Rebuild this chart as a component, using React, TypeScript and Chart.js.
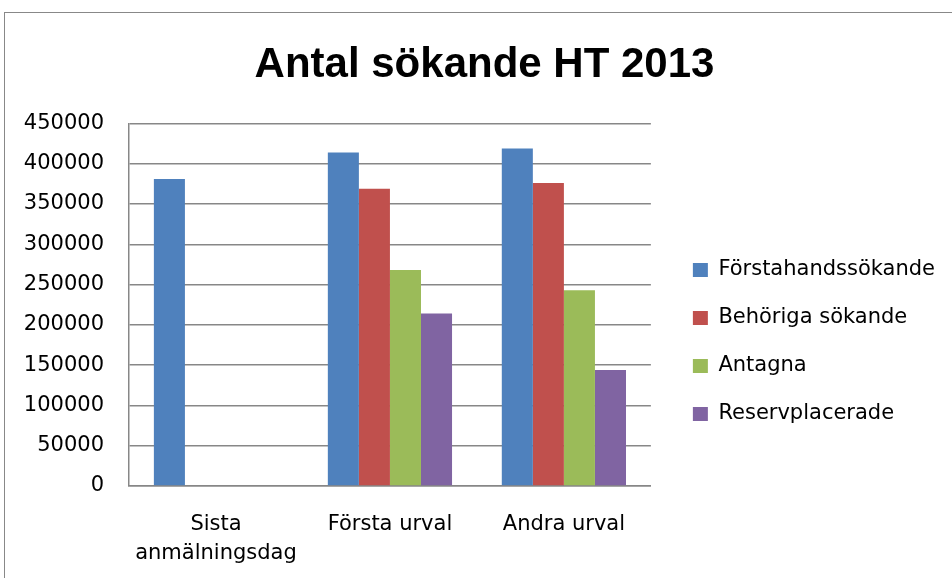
import React, { useEffect, useRef } from "react";
import { Chart, registerables } from "chart.js";

Chart.register(...registerables);

const categories: (string | string[])[] = [["Sista", "anmälningsdag"], "Första urval", "Andra urval"];
const seriesNames = ["Förstahandssökande", "Behöriga sökande", "Antagna", "Reservplacerade"];
const forstahands = [381000, 414000, 419000];
const behoriga = [null, 369000, 376000];
const antagna = [null, 268000, 243000];
const reserv = [null, 214000, 144000];
const colors = ["#4F81BD", "#C0504D", "#9BBB59", "#8064A2"];
const yMax = 450000;
const yStep = 50000;

const FONT = "'DejaVu Sans', sans-serif";
const GRID = "#878787";

export default function App() {
  const ref = useRef<HTMLCanvasElement | null>(null);
  useEffect(() => {
    document.body.style.margin = "0";
    document.body.style.overflow = "hidden";
    const series = [forstahands, behoriga, antagna, reserv];
    const chart = new Chart(ref.current!, {
      type: "bar",
      data: {
        labels: categories,
        datasets: series.map((d, i) => ({
          label: seriesNames[i],
          data: d,
          backgroundColor: colors[i],
          borderWidth: 0,
          categoryPercentage: 0.714,
          barPercentage: 1,
        })),
      },
      options: {
        responsive: false,
        animation: false,
        layout: { padding: { left: 24, right: 7, top: 0, bottom: 12 } },
        plugins: {
          tooltip: { enabled: false },
          title: {
            display: true,
            text: "Antal sökande HT 2013",
            color: "#000",
            font: { family: "'Liberation Sans', sans-serif", size: 42, weight: "bold", lineHeight: 1.2 },
            padding: { top: 40, bottom: 33 },
          },
          legend: {
            position: "right",
            align: "center",
            maxWidth: 320,
            title: { display: true, text: " ", font: { size: 10, lineHeight: 1.2 }, padding: { top: 0, bottom: 106 } },
            labels: {
              color: "#000",
              font: { family: FONT, size: 21 },
              boxWidth: 15,
              boxHeight: 14,
              padding: 27,
            },
          },
        },
        scales: {
          x: {
            grid: { display: false, drawTicks: false },
            border: { display: true, color: GRID, width: 1.5 },
            ticks: { color: "#000", font: { family: FONT, size: 21, lineHeight: 1.38 }, padding: 24, maxRotation: 0 },
            afterFit: (s: any) => { s.height = 80; },
          },
          y: {
            min: 0,
            max: yMax,
            grid: { color: GRID, lineWidth: 1.5, drawTicks: false },
            border: { display: true, color: GRID, width: 1.5 },
            ticks: {
              stepSize: yStep,
              color: "#000",
              font: { family: FONT, size: 21 },
              padding: 25,
              callback: (v: any) => String(v),
            },
            afterFit: (s: any) => { s.width = 105; },
          },
          y2: {
            type: "linear",
            position: "right",
            display: true,
            grid: { display: false, drawTicks: false },
            border: { display: false },
            ticks: { display: false },
            afterFit: (s: any) => { s.width = 15; },
          },
        },
      },
    });
    return () => chart.destroy();
  }, []);
  return (
    <div style={{ position: "fixed", left: 0, top: 0, width: 952, height: 578, overflow: "hidden", background: "#fff" }}>
      <div style={{ position: "absolute", left: 4, top: 12, width: 1100, height: 1100, border: "1.5px solid #888", boxSizing: "border-box" }} />
      <canvas ref={ref} width={952} height={578} style={{ position: "absolute", left: 0, top: 0 }} />
    </div>
  );
}
